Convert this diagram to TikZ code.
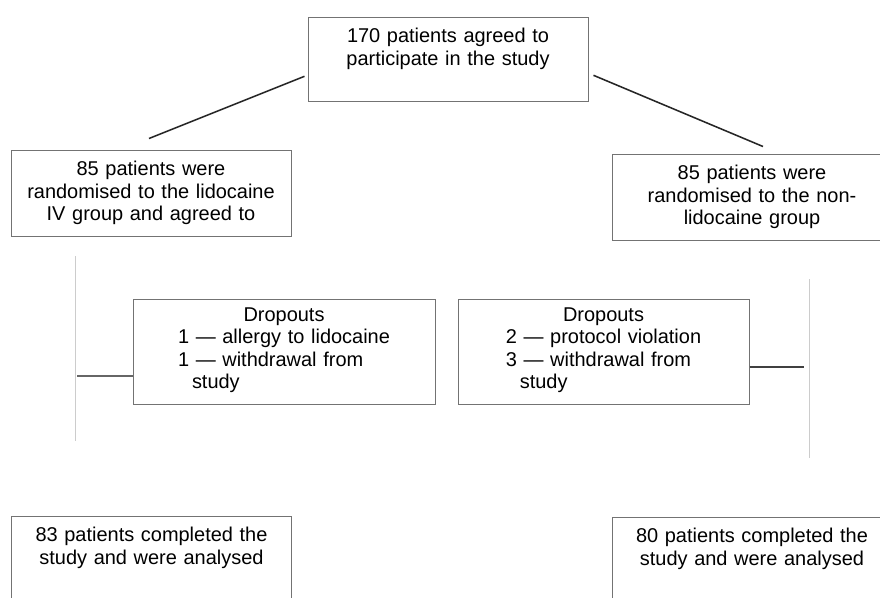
\documentclass[tikz,border=0pt]{standalone}
\usepackage{fontspec}
\setmainfont{Liberation Sans}
\usepackage{tikz}

\begin{document}
\begin{tikzpicture}
	[auto,
	box/.style ={rectangle, draw=black!55, line width=0.7pt, text width=6.8cm, align=center, inner xsep=0.1cm, minimum height=2.15cm, font=\fontsize{14.2}{16.1}\selectfont},
	topbox/.style ={box, anchor=north, minimum height=0pt, inner ysep=7.6pt, text depth=34pt},
	dropbox/.style ={box, minimum height=2.625cm},
	line/.style ={draw, black!85, line width=1.1pt},
	branch/.style ={draw, black!60, line width=0.9pt},
	trunk/.style ={draw, black!20, line width=0.7pt}]
	\useasboundingbox (0, 0) rectangle (22, -14.925);
	\draw (11.2, -0.425) node[topbox] (all) {170 patients agreed to\\participate in the study};
	\draw (3.775, -4.825) node[box] (lido) {85 patients were\\randomised to the lidocaine\\IV group and agreed to};
	\draw (18.8, -4.925) node[box] (nonlido) {85 patients were\\randomised to the non-\\lidocaine group};
	\draw (7.1, -8.7875) node[dropbox, text width=7.35cm] (lidodrop) {Dropouts\\\begin{tabular}[t]{@{}l@{}}1 — allergy to lidocaine\\1 — withdrawal from\\\hspace{0.7em}study\end{tabular}};
	\draw (15.0875, -8.7875) node[dropbox, text width=7.075cm] (nonlidodrop) {Dropouts\\\begin{tabular}[t]{@{}l@{}}2 — protocol violation\\3 — withdrawal from\\\hspace{0.7em}study\end{tabular}};
	\draw (3.7875, -12.9) node[topbox, text depth=50pt] (lidodone) {83 patients completed the\\study and were analysed};
	\draw (18.8, -12.925) node[topbox, text depth=50pt] (nonlidodone) {80 patients completed the\\study and were analysed};
	\coordinate (lidotop) at (1.875, -6.4);
	\coordinate (lidobot) at (1.875, -11.025);
	\coordinate (lidoknot) at (1.925, -9.4);
	\coordinate (nonlidotop) at (20.225, -6.975);
	\coordinate (nonlidobot) at (20.225, -11.45);
	\coordinate (nonlidoknot) at (20.1, -9.175);
	\draw[line] ([xshift=-0.075cm, yshift=-0.425cm]all.west) -- ([xshift=-0.05cm, yshift=0.275cm]lido.north);
	\draw[line] ([xshift=0.125cm, yshift=-0.4cm]all.east) -- ([xshift=0.275cm, yshift=0.175cm]nonlido.north);
	\draw[trunk] (lidotop) -- (lidobot);
	\draw[trunk] (nonlidotop) -- (nonlidobot);
	\draw[branch] (lidoknot) -- (lidoknot -| lidodrop.west);
	\draw[branch, black!75] (nonlidodrop.east |- nonlidoknot) -- (nonlidoknot);
\end{tikzpicture}
\end{document}
